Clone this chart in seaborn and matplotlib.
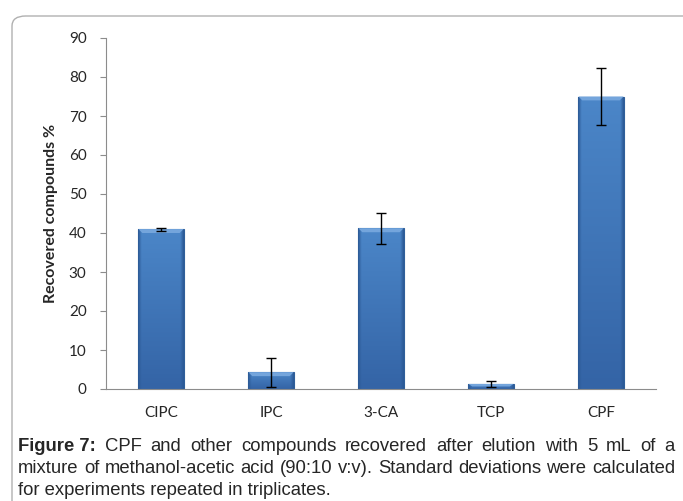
import matplotlib
matplotlib.use("Agg")
import matplotlib.pyplot as plt
import seaborn as sns
import pandas as pd
import numpy as np
from matplotlib.patches import FancyBboxPatch, Polygon
from matplotlib.colors import to_rgb

compounds = ["CIPC", "IPC", "3-CA", "TCP", "CPF"]
recovered = [41.0, 4.3, 41.2, 1.3, 75.0]
std_dev = [0.4, 3.7, 3.9, 0.8, 7.3]
y_ticks = [0, 10, 20, 30, 40, 50, 60, 70, 80, 90]

sns.set_style("white")
plt.rcParams["font.family"] = ["Lato", "DejaVu Sans"]

df = pd.DataFrame({"compound": compounds, "recovered": recovered})

fig = plt.figure(figsize=(6.83, 5.01), dpi=100)
W, H = 683, 501

# outer rounded frame
frame = FancyBboxPatch((12 / W, -0.2), 1.2, 1.2 - 16 / H,
                       boxstyle="round,pad=0,rounding_size=0.02",
                       transform=fig.transFigure, fill=False,
                       edgecolor="#b0b0b0", linewidth=1.0)
fig.patches.append(frame)

ax = fig.add_axes([106 / W, 1 - 389 / H, (656 - 106) / W, (389 - 38) / H])
sns.barplot(data=df, x="compound", y="recovered", ax=ax, color="#3F74B5",
            width=0.41, saturation=1, edgecolor="#2F5F9A", linewidth=0.8,
            errorbar=None)

# bevelled gradient shading inside bars
top_c = np.array(to_rgb("#4b86c8"))
bot_c = np.array(to_rgb("#3464a6"))
edge_c = np.array(to_rgb("#2c5a96"))
ny, nx = 64, 64
tv = np.linspace(1, 0, ny)[:, None, None]          # top row first
base = bot_c + (top_c - bot_c) * tv
hx = np.linspace(-1, 1, nx)[None, :, None]
edge_w = np.clip((np.abs(hx) - 0.85) / 0.15, 0, 1)
img = base * (1 - edge_w) + edge_c * edge_w
img = np.broadcast_to(img, (ny, nx, 3)).copy()
bar_patches = list(ax.patches)
for p in bar_patches:
    x, y = p.get_x(), p.get_y()
    w, h = p.get_width(), p.get_height()
    im = ax.imshow(img, aspect="auto", extent=[x, x + w, y, y + h],
                   zorder=p.get_zorder() + 0.1, interpolation="bilinear")
    im.set_clip_path(p)
    dy = min(1.0, h * 0.5)
    dx = 0.035
    bevel = Polygon([[x, y + h], [x + w, y + h], [x + w - dx, y + h - dy], [x + dx, y + h - dy]],
                    closed=True, facecolor="#74a5dc", edgecolor="none",
                    zorder=p.get_zorder() + 0.2)
    ax.add_patch(bevel)

xs = list(range(len(compounds)))
ax.errorbar(xs, recovered, yerr=std_dev, fmt="none", ecolor="black",
            elinewidth=1.0, capsize=3.5, capthick=1.0, zorder=5)

ax.set_xlim(-0.5, len(compounds) - 0.5)
ax.set_ylim(0, 90)
ax.set_yticks(y_ticks)
ax.set_xticks(xs)
ax.set_xticks([i - 0.5 for i in range(len(compounds) + 1)], minor=True)
ax.tick_params(axis="x", which="major", length=0, pad=12, labelsize=11)
ax.tick_params(axis="x", which="minor", length=5, color="#8c8c8c", width=0.8, direction="out")
ax.tick_params(axis="y", length=4, color="#8c8c8c", width=0.8, direction="out",
               labelsize=11, pad=10, left=True)
for s in ["top", "right"]:
    ax.spines[s].set_visible(False)
for s in ["left", "bottom"]:
    ax.spines[s].set_color("#8c8c8c")
    ax.spines[s].set_linewidth(0.8)
ax.set_xlabel("")
ax.set_ylabel("Recovered compounds %", fontsize=11.5, fontweight="bold", labelpad=8)

# caption (justified like the original)
cap_font = ["Liberation Sans", "DejaVu Sans"]
fs = 13.3
x0, x1 = 18 / W, 675 / W
fig.canvas.draw()
r = fig.canvas.get_renderer()


def justify(words, ypix, bold_first=False):
    items = []
    for i, wd in enumerate(words):
        t = fig.text(0, 0, wd, fontsize=fs, family=cap_font,
                     fontweight="bold" if (bold_first and i == 0) else "normal")
        bb = t.get_window_extent(renderer=r)
        items.append((t, bb.width / W))
    total = sum(wd for _, wd in items)
    gap = (x1 - x0 - total) / (len(items) - 1)
    xpos = x0
    for t, wd in items:
        t.set_position((xpos, 1 - ypix / H))
        xpos += wd + gap


justify(["Figure 7:", "CPF", "and", "other", "compounds", "recovered", "after",
         "elution", "with", "5", "mL", "of", "a"], 451, bold_first=True)
justify("mixture of methanol-acetic acid (90:10 v:v). Standard deviations were calculated".split(),
        473)
fig.text(x0, 1 - 495 / H, "for experiments repeated in triplicates.",
         fontsize=fs, family=cap_font)

fig.savefig("out.png", dpi=100)
